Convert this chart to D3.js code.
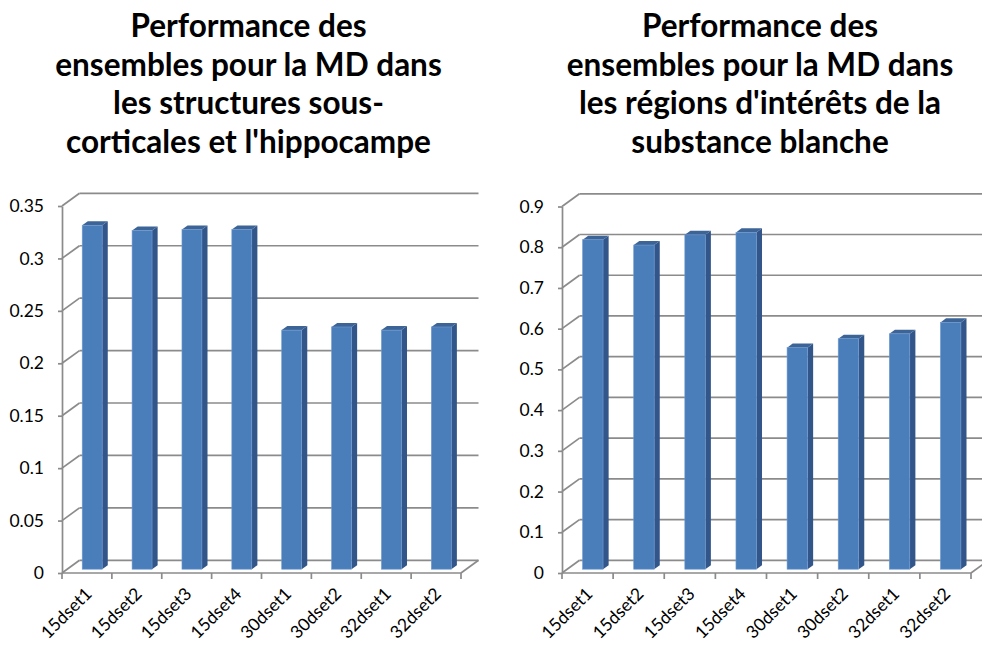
<!DOCTYPE html>
<html>
<head>
<meta charset="utf-8">
<script src="https://cdn.jsdelivr.net/npm/d3@7"></script>
<style>
  html, body { margin: 0; padding: 0; background: #ffffff; }
  svg { display: block; }
  text { font-family: Lato, "Open Sans", sans-serif; fill: #000; }
</style>
</head>
<body>
<svg id="chart" width="982" height="645"></svg>
<script>
// Categories shared by both panels
const categories = ["15dset1", "15dset2", "15dset3", "15dset4", "30dset1", "30dset2", "32dset1", "32dset2"];

// Panel 1: MD in subcortical structures and hippocampus
const titleSubcortical = ["Performance des", "ensembles pour la MD dans", "les structures sous-", "corticales et l'hippocampe"];
const valuesSubcortical = [0.328, 0.323, 0.324, 0.324, 0.228, 0.231, 0.228, 0.231];
const ticksSubcortical = [0, 0.05, 0.1, 0.15, 0.2, 0.25, 0.3, 0.35];

// Panel 2: MD in white-matter regions of interest
const titleWhiteMatter = ["Performance des", "ensembles pour la MD dans", "les régions d'intérêts de la", "substance blanche"];
const valuesWhiteMatter = [0.809, 0.796, 0.821, 0.827, 0.544, 0.566, 0.578, 0.606];
const ticksWhiteMatter = [0, 0.1, 0.2, 0.3, 0.4, 0.5, 0.6, 0.7, 0.8, 0.9];

const svg = d3.select("#chart");

// 3-D projection: depth direction of the plot box
const DEPTH_X = 17.5, DEPTH_Y = -12.7;
const BAR_Z0 = 0.3, BAR_DEPTH = 0.32;   // bar front / thickness as fractions of the box depth
const BAR_WIDTH_FRAC = 0.4;

const COL = {
  grid: "#8b8b8b",
  front: "#4a7ebb",
  side: "#32568a",
  top: "#3c6497",
  edge: "#6f98cf"
};

function drawPanel(cfg) {
  const g = svg.append("g");

  // Title
  const title = g.append("text")
    .attr("x", cfg.titleX)
    .attr("text-anchor", "middle")
    .style("font-size", "31.5px")
    .style("font-weight", "700");
  cfg.title.forEach((line, i) => {
    title.append("tspan")
      .attr("x", cfg.titleX)
      .attr("y", 37 + i * 38.5)
      .text(line);
  });

  const x = d3.scaleBand().domain(cfg.categories).range([cfg.x0, cfg.x1]).padding(0);
  const y = d3.scaleLinear().domain([0, d3.max(cfg.ticks)]).range([cfg.yBase, cfg.yTop]);

  const line = (x1, y1, x2, y2) => g.append("line")
    .attr("x1", x1).attr("y1", y1).attr("x2", x2).attr("y2", y2)
    .attr("stroke", COL.grid).attr("stroke-width", 1.7);

  // Back wall gridlines
  cfg.ticks.forEach(t => line(cfg.x0 + DEPTH_X, y(t) + DEPTH_Y, cfg.x1 + DEPTH_X, y(t) + DEPTH_Y));
  // Side wall diagonals
  cfg.ticks.forEach(t => line(cfg.x0, y(t), cfg.x0 + DEPTH_X, y(t) + DEPTH_Y));
  // Floor right edge
  line(cfg.x1, y(0), cfg.x1 + DEPTH_X, y(0) + DEPTH_Y);

  // Value axis (front edge of side wall)
  const yAxis = d3.axisLeft(y)
    .tickValues(cfg.ticks)
    .tickFormat(d => String(+d.toFixed(2)))
    .tickSizeInner(4)
    .tickSizeOuter(0)
    .tickPadding(14);
  const ya = g.append("g").attr("transform", `translate(${cfg.x0},0)`).call(yAxis);
  ya.select(".domain").attr("stroke", COL.grid).attr("stroke-width", 1.7);
  ya.selectAll(".tick line").attr("stroke", COL.grid).attr("stroke-width", 1.7);
  ya.selectAll(".tick text").style("font-size", "17.5px").style("font-family", "Lato, sans-serif").attr("fill", "#000");

  // Category axis (front edge of floor)
  line(cfg.x0, y(0), cfg.x1, y(0));
  const edges = cfg.categories.map(c => x(c)).concat([cfg.x1]);
  edges.forEach(ex => line(ex, y(0), ex, y(0) + 6));
  g.selectAll(".cat")
    .data(cfg.categories)
    .join("text")
    .attr("class", "cat")
    .attr("text-anchor", "end")
    .style("font-size", "17.5px")
    .attr("transform", d => `translate(${x(d) + x.bandwidth() / 2 + 6},${y(0) + 22}) rotate(-45)`)
    .text(d => d);

  // 3-D columns
  const bw = x.bandwidth() * BAR_WIDTH_FRAC;
  const dzx = BAR_DEPTH * DEPTH_X, dzy = BAR_DEPTH * DEPTH_Y;
  const bars = g.selectAll(".bar")
    .data(cfg.categories.map((c, i) => ({ c, v: cfg.values[i] })))
    .join("g")
    .attr("class", "bar");

  const fx = d => x(d.c) + x.bandwidth() / 2 - bw / 2 + BAR_Z0 * DEPTH_X;
  const fy0 = () => y(0) + BAR_Z0 * DEPTH_Y;
  const fyv = d => y(d.v) + BAR_Z0 * DEPTH_Y;

  // side face
  bars.append("path")
    .attr("fill", COL.side)
    .attr("d", d => {
      const xr = fx(d) + bw;
      return `M${xr},${fyv(d)} L${xr + dzx},${fyv(d) + dzy} L${xr + dzx},${fy0() + dzy} L${xr},${fy0()} Z`;
    });
  // top face
  bars.append("path")
    .attr("fill", COL.top)
    .attr("d", d => {
      const xl = fx(d), xr = xl + bw, yt = fyv(d);
      return `M${xl},${yt} L${xl + dzx},${yt + dzy} L${xr + dzx},${yt + dzy} L${xr},${yt} Z`;
    });
  // front face
  bars.append("rect")
    .attr("fill", COL.front)
    .attr("stroke", COL.edge)
    .attr("stroke-width", 0.6)
    .attr("x", fx)
    .attr("y", fyv)
    .attr("width", bw)
    .attr("height", d => fy0() - fyv(d));
}

drawPanel({
  title: titleSubcortical, titleX: 248.5,
  categories, values: valuesSubcortical, ticks: ticksSubcortical,
  x0: 62, x1: 461, yBase: 573, yTop: 206
});

drawPanel({
  title: titleWhiteMatter, titleX: 760,
  categories, values: valuesWhiteMatter, ticks: ticksWhiteMatter,
  x0: 562, x1: 971, yBase: 573, yTop: 206.5
});
</script>
</body>
</html>
